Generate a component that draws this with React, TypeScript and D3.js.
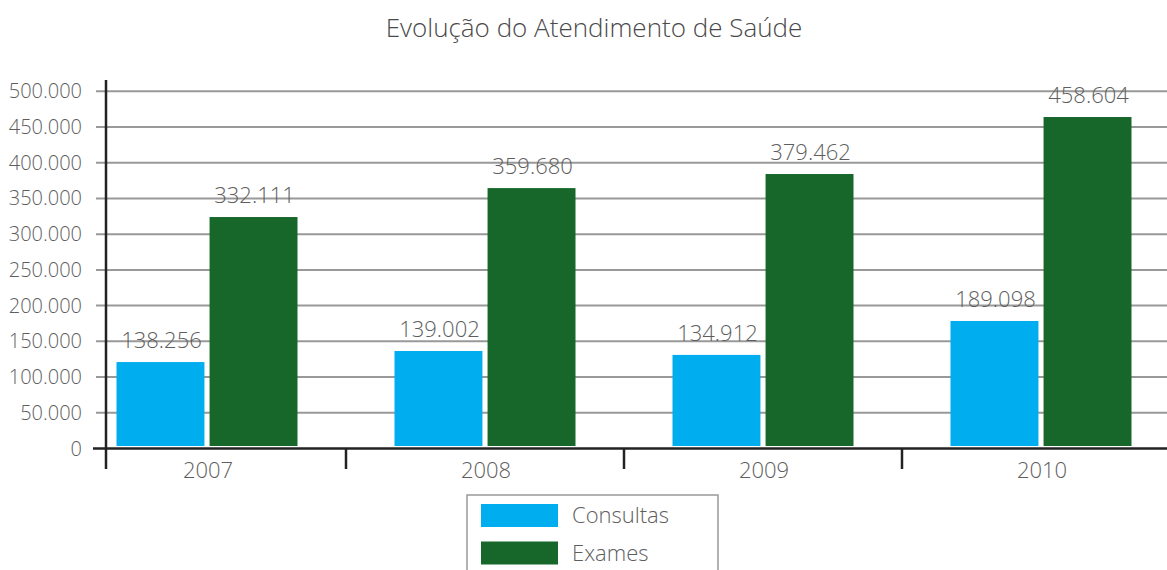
import React from "react";
import * as d3 from "d3";

const years = ["2007", "2008", "2009", "2010"];
const seriesNames = ["Consultas", "Exames"];
const consultas = [121000, 136500, 131000, 178500];
const exames = [324000, 364500, 384200, 464000];
const consultasLabels = ["138.256", "139.002", "134.912", "189.098"];
const examesLabels = ["332.111", "359.680", "379.462", "458.604"];
const yTicks = [0, 50000, 100000, 150000, 200000, 250000, 300000, 350000, 400000, 450000, 500000];
const colors = ["#00AEEF", "#17662A"];
const title = "Evolução do Atendimento de Saúde";

const W = 1167;
const H = 570;
const FONT = "'Open Sans', 'DejaVu Sans', sans-serif";

const fmt = (v: number) => (v === 0 ? "0" : d3.format(",")(v).replace(/,/g, "."));

export default function App() {
  const y = d3.scaleLinear().domain([0, 500000]).range([448.5, 91.3]);
  const x0 = d3.scaleBand<string>().domain(years).range([68, 68 + 4 * 278]);
  const groupW = 181;
  const x1 = d3.scaleBand<string>().domain(seriesNames).range([0, groupW]).paddingInner(0.055);
  const values = [consultas, exames];
  const labels = [consultasLabels, examesLabels];
  const axisY = y(0);

  return (
    <svg width={W} height={H} style={{ position: "absolute", left: 0, top: 0, background: "#fff" }}>
      <text x={594} y={37} textAnchor="middle" fontFamily={FONT} fontWeight={300} fontSize={26} fill="#4a4a4a">
        {title}
      </text>
      {yTicks.map((t) => (
        <g key={t}>
          {t !== 0 && <line x1={96} x2={W} y1={y(t)} y2={y(t)} stroke="#999" strokeWidth={2} />}
          <text x={82} y={y(t)} dy="0.35em" textAnchor="end" fontFamily={FONT} fontWeight={300} fontSize={20} fill="#5e5e5e">
            {fmt(t)}
          </text>
        </g>
      ))}
      {years.map((yr, i) => {
        const gx = (x0(yr) as number) + x0.bandwidth() / 2 - groupW / 2;
        return (
          <g key={yr}>
            {seriesNames.map((s, j) => {
              const v = values[j][i];
              const bx = gx + (x1(s) as number);
              return (
                <g key={s}>
                  <rect x={bx} y={y(v)} width={x1.bandwidth()} height={axisY - 2.5 - y(v)} fill={colors[j]} />
                  <text x={bx + x1.bandwidth() / 2 + 1} y={y(v) - 14} textAnchor="middle" fontFamily={FONT} fontWeight={300} fontSize={22} fill="#5e5e5e">
                    {labels[j][i]}
                  </text>
                </g>
              );
            })}
            <text x={(x0(yr) as number) + x0.bandwidth() / 2 + 1} y={478} textAnchor="middle" fontFamily={FONT} fontWeight={300} fontSize={22} fill="#5e5e5e">
              {yr}
            </text>
          </g>
        );
      })}
      <line x1={93} x2={W} y1={axisY} y2={axisY} stroke="#222" strokeWidth={2.5} />
      <line x1={106} x2={106} y1={80} y2={469} stroke="#222" strokeWidth={2.5} />
      {years.slice(1).map((yr) => (
        <line key={yr} x1={x0(yr) as number} x2={x0(yr) as number} y1={axisY} y2={469} stroke="#222" strokeWidth={2.5} />
      ))}
      <rect x={467} y={495} width={251} height={90} fill="none" stroke="#999" strokeWidth={1.5} />
      {seriesNames.map((s, j) => (
        <g key={s}>
          <rect x={481} y={504 + j * 37.5} width={77} height={23} fill={colors[j]} />
          <text x={572} y={523 + j * 38} fontFamily={FONT} fontWeight={300} fontSize={22} fill="#5e5e5e">
            {s}
          </text>
        </g>
      ))}
    </svg>
  );
}
